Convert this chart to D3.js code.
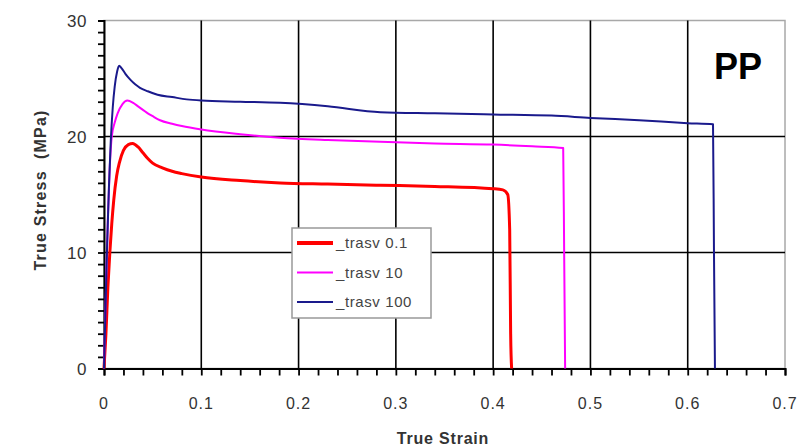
<!DOCTYPE html>
<html><head><meta charset="utf-8">
<script src="https://cdn.jsdelivr.net/npm/d3@7"></script>
<style>body{margin:0;background:#fff;}svg{display:block;}</style>
</head><body>
<svg id="c" width="801" height="447"></svg>
<script>
// Data (strain, stress)
const seriesNames = ["_trasv 0.1", "_trasv 10", "_trasv 100"];
const seriesColors = ["#ff0000", "#ff00ff", "#1a1a8c"];
const strain01 = [0,0.002,0.004,0.006,0.008,0.010,0.013,0.016,0.020,0.025,0.0295,0.035,0.040,0.045,0.050,0.060,0.070,0.080,0.1,0.14,0.181,0.23,0.284,0.34,0.4,0.41,0.415,0.417,0.418,0.419];
const stress01 = [0,3,7,10,12.5,14.5,16.6,17.8,18.8,19.3,19.4,19.1,18.6,18.1,17.7,17.3,17.0,16.8,16.5,16.2,16.0,15.9,15.8,15.7,15.5,15.4,15.0,12,3,0];
const strain10 = [0,0.002,0.004,0.006,0.008,0.011,0.014,0.019,0.024,0.03,0.035,0.04,0.045,0.05,0.0576,0.07,0.08,0.1,0.14,0.181,0.23,0.284,0.34,0.4,0.44,0.472,0.473,0.474];
const stress10 = [0,7,13,17.5,20,21.2,22.0,22.8,23.1,22.9,22.6,22.3,22.0,21.75,21.4,21.1,20.9,20.6,20.2,19.9,19.7,19.55,19.4,19.3,19.15,19.0,10,0];
const strain100 = [0,0.003,0.005,0.007,0.009,0.011,0.0135,0.0155,0.018,0.022,0.027,0.032,0.037,0.045,0.055,0.07,0.085,0.1,0.14,0.181,0.23,0.284,0.34,0.4,0.46,0.5,0.55,0.6,0.626,0.627,0.628];
const stress100 = [0,10,15.5,19.7,22.5,24.3,25.6,26.1,25.9,25.4,24.9,24.5,24.2,23.9,23.6,23.4,23.2,23.1,23.0,22.9,22.6,22.1,22.0,21.9,21.8,21.6,21.4,21.15,21.05,10,0];
const xTicks = [0,0.1,0.2,0.3,0.4,0.5,0.6,0.7];
const yTicks = [0,10,20,30];

const svg = d3.select("#c");
const L = 104, R = 785, T = 20.5, B = 368.5;
const x = d3.scaleLinear().domain([0,0.7]).range([L,R]);
const y = d3.scaleLinear().domain([0,30]).range([B,T]);
const FONT = "Liberation Sans, Arial, sans-serif";

// plot border (gray top/right)
svg.append("rect").attr("x",L).attr("y",T).attr("width",R-L).attr("height",B-T)
  .attr("fill","#fff").attr("stroke","#a8a8a8").attr("stroke-width",1.5);

// grid lines
svg.append("g").selectAll("line").data(xTicks.filter(d=>d>0 && d<0.7)).join("line")
  .attr("x1",d=>x(d)).attr("x2",d=>x(d)).attr("y1",T).attr("y2",B)
  .attr("stroke","#000").attr("stroke-width",1.6);
svg.append("g").selectAll("line").data(yTicks.filter(d=>d>0 && d<30)).join("line")
  .attr("x1",L).attr("x2",R).attr("y1",d=>y(d)).attr("y2",d=>y(d))
  .attr("stroke","#000").attr("stroke-width",1.6);

// axes
const xMinor = d3.range(0,0.7001,0.02);
const yMinor = d3.range(0,30.001,1);
const xAxis = d3.axisBottom(x).tickValues(xMinor).tickSize(7).tickFormat("");
const yAxis = d3.axisLeft(y).tickValues(yMinor).tickSize(6).tickFormat("");
const gx = svg.append("g").attr("transform",`translate(0,${B})`).call(xAxis);
const gy = svg.append("g").attr("transform",`translate(${L},0)`).call(yAxis);
[gx,gy].forEach(g=>{
  g.select(".domain").attr("stroke","#000").attr("stroke-width",2);
  g.selectAll(".tick line").attr("stroke","#000").attr("stroke-width",1.8);
});
// tick labels
svg.append("g").selectAll("text").data(xTicks).join("text")
  .attr("x",d=>x(d)).attr("y",409).attr("text-anchor","middle")
  .attr("font-family",FONT).attr("font-size",16).attr("letter-spacing",1).attr("fill","#333")
  .text(d=>d===0?"0":d3.format(".1f")(d));
svg.append("g").selectAll("text").data(yTicks).join("text")
  .attr("x",87).attr("y",d=>y(d)+6).attr("text-anchor","end")
  .attr("font-family",FONT).attr("font-size",17).attr("letter-spacing",0.5).attr("fill","#333")
  .text(d=>d);

// axis titles
svg.append("text").attr("transform","translate(46,190) rotate(-90)").attr("text-anchor","middle")
  .attr("font-family",FONT).attr("font-size",16).attr("font-weight","bold").attr("letter-spacing",1.2).attr("fill","#333")
  .attr("xml:space","preserve").text("True Stress  (MPa)");
svg.append("text").attr("x",443).attr("y",444).attr("text-anchor","middle")
  .attr("font-family",FONT).attr("font-size",16).attr("font-weight","bold").attr("letter-spacing",0.8).attr("fill","#333")
  .text("True Strain");

// curves
const line = d3.line().x(d=>x(d[0])).y(d=>y(d[1])).curve(d3.curveMonotoneX);
const series = [
  {xs:strain01, ys:stress01, w:3},
  {xs:strain10, ys:stress10, w:2},
  {xs:strain100, ys:stress100, w:2}
];
series.forEach((s,i)=>{
  const pts = s.xs.map((v,j)=>[v,s.ys[j]]);
  svg.append("path").datum(pts).attr("d",line).attr("fill","none")
    .attr("stroke",seriesColors[i]).attr("stroke-width",s.w).attr("stroke-linejoin","round");
});

// legend
const lg = svg.append("g");
lg.append("rect").attr("x",292).attr("y",228).attr("width",139).attr("height",90)
  .attr("fill","#fff").attr("stroke","#999").attr("stroke-width",1.5);
seriesNames.forEach((n,i)=>{
  const yy = 243 + i*29.5;
  lg.append("line").attr("x1",297).attr("x2",333).attr("y1",yy).attr("y2",yy)
    .attr("stroke",seriesColors[i]).attr("stroke-width",i===0?4:2);
  lg.append("text").attr("x",336).attr("y",yy+5).attr("font-family",FONT)
    .attr("font-size",15).attr("letter-spacing",0.6).attr("fill","#444").text(n);
});

// PP label
svg.append("text").attr("x",738).attr("y",79).attr("text-anchor","middle")
  .attr("font-family",FONT).attr("font-size",36).attr("font-weight","bold")
  .attr("fill","#000").text("PP");
</script>
</body></html>
